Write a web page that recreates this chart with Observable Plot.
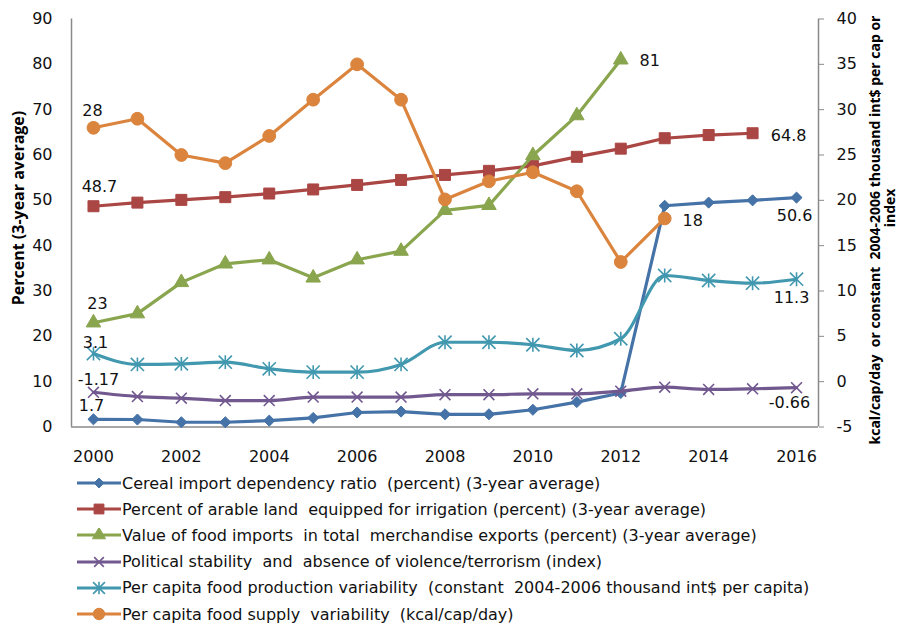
<!DOCTYPE html>
<html><head><meta charset="utf-8">
<script src="https://cdn.jsdelivr.net/npm/d3@7"></script>
<script src="https://cdn.jsdelivr.net/npm/@observablehq/plot@0.6"></script>
<style>
body{margin:0;background:#fff;font-family:"DejaVu Sans",sans-serif;}
#chart{position:relative;width:900px;height:628px;overflow:hidden;}
#chart svg.plot{position:absolute;left:0;top:0;}
.legend{position:absolute;left:76px;top:470px;}
.row{display:flex;align-items:center;height:26.2px;font-size:16px;color:#111;white-space:pre;}
.row svg{margin-right:0;flex:none}
</style></head><body><div id="chart"></div><script>
// ---------- data ----------
const years = [2000,2001,2002,2003,2004,2005,2006,2007,2008,2009,2010,2011,2012,2013,2014,2015,2016];
const xTicks = [2000,2002,2004,2006,2008,2010,2012,2014,2016];
const leftTicks = [0,10,20,30,40,50,60,70,80,90];
const rightTicks = [-5,0,5,10,15,20,25,30,35,40];

// left axis (percent)
const cereal     = [1.7,1.65,1.05,1.05,1.4,2.0,3.2,3.4,2.8,2.8,3.8,5.5,7.5,48.8,49.5,50.0,50.6];
const irrigation = [48.7,49.5,50.1,50.7,51.5,52.4,53.4,54.5,55.6,56.5,57.6,59.6,61.4,63.7,64.4,64.8];
const foodImports= [23,25,31.9,36,36.9,32.9,36.9,38.8,47.8,48.9,59.9,68.7,81];
// right axis
const stability  = [-1.17,-1.64,-1.82,-2.08,-2.08,-1.7,-1.7,-1.7,-1.44,-1.44,-1.34,-1.34,-1.05,-0.61,-0.86,-0.79,-0.66];
const prodVar    = [3.1,1.9,1.97,2.15,1.42,1.05,1.05,1.9,4.35,4.35,4.07,3.44,4.73,11.71,11.16,10.86,11.3];
const supplyVar  = [28,29,25,24.1,27.1,31.1,35,31.1,20.1,22.1,23.1,21,13.2,18];

const seriesNames = [
  "Cereal import dependency ratio  (percent) (3-year average)",
  "Percent of arable land  equipped for irrigation (percent) (3-year average)",
  "Value of food imports  in total  merchandise exports (percent) (3-year average)",
  "Political stability  and  absence of violence/terrorism (index)",
  "Per capita food production variability  (constant  2004-2006 thousand int$ per capita)",
  "Per capita food supply  variability  (kcal/cap/day)"
];
const labelSeries = [5,1,2,4,3,0,2,1,5,0,4,3];
const labelYears  = [2000,2000,2000,2000,2000,2000,2012,2015,2013,2016,2016,2016];
const labelTexts  = ["28","48.7","23","3.1","-1.17","1.7","81","64.8","18","50.6","11.3","-0.66"];
const leftTitle = "Percent (3-year average)";
const rightTitle1 = "kcal/cap/day  or constant  2004-2006 thousand int$ per cap or";
const rightTitle2 = "index";

// ---------- styles ----------
const colors = ["#4572A7","#AA4643","#89A54E","#71588F","#4198AF","#DB843D"];
const starSymbol = {draw(ctx, size){const r=Math.sqrt(size)*0.62;ctx.moveTo(-r,-r);ctx.lineTo(r,r);ctx.moveTo(r,-r);ctx.lineTo(-r,r);ctx.moveTo(0,-r*1.05);ctx.lineTo(0,r*1.05);}};
const symbols = ["diamond2","square","triangle","times",starSymbol,"circle"];
const filled  = [true,true,true,false,false,true];
const radii   = [5,6.2,5.4,5,6,6.4];
const labelOffsets = [[-1,-17],[6,-19],[4,-19],[2,-11],[5,-12],[-2,-13],[29,1],[36,3],[28,2],[-2,18],[-5,19],[-7,15]];
const FONT = "DejaVu Sans";
const TITLE_FONT = "Open Sans";

const toLeft = r => (r + 5) * 2;   // right axis -> left axis units
const raw = [cereal, irrigation, foodImports, stability, prodVar, supplyVar];
const onRight = [false,false,false,true,true,true];
const series = raw.map((vals, i) => vals.map((v, j) => ({year: years[j], value: onRight[i] ? toLeft(v) : v, s: i})));

const marks = [
  Plot.ruleY([0], {stroke:"#8a8a8a", strokeWidth:1.5}),
  Plot.ruleX([1999.5], {stroke:"#8a8a8a", strokeWidth:1.5}),
  Plot.ruleX([2016.5], {stroke:"#8a8a8a", strokeWidth:1.5}),
  Plot.axisX({ticks: xTicks, tickFormat: d => String(d), tickSize: 0, tickPadding: 24, label: null, fontSize: 16}),
  Plot.axisY({anchor:"left", ticks: leftTicks, tickSize: 0, tickPadding: 19, label: null, fontSize: 16}),
  Plot.axisY({anchor:"right", ticks: rightTicks.map(toLeft), tickFormat: d => String(d/2 - 5), tickSize: 5, stroke:"#8a8a8a", tickPadding: 13, label: null, fontSize: 16}),
];
series.forEach((data, i) => {
  marks.push(Plot.line(data, {x:"year", y:"value", stroke: colors[i], strokeWidth: 3.2, curve: i===4 || i===3 ? "monotone-x" : "linear"}));
  marks.push(Plot.dot(data, {x:"year", y:"value", symbol: () => symbols[i], r: radii[i],
    fill: filled[i] ? colors[i] : "none", stroke: colors[i], strokeWidth: filled[i] ? 1 : 1.6}));
});
labelTexts.forEach((t, k) => {
  const s = labelSeries[k];
  const d = series[s].find(p => p.year === labelYears[k]);
  marks.push(Plot.text([d], {x:"year", y:"value", text: () => t, dx: labelOffsets[k][0], dy: labelOffsets[k][1], fontSize: 16, fill:"#111"}));
});
// axis titles
marks.push(Plot.text([leftTitle], {frameAnchor:"left", textAnchor:"middle", text: d => d, rotate:-90, dx:-53, dy:-15, fontWeight:"bold", fontSize:16, fontFamily: TITLE_FONT, fill:"#000"}));
marks.push(Plot.text([rightTitle1], {frameAnchor:"right", textAnchor:"middle", text: d => d, rotate:-90, dx:57, dy:7, fontWeight:"bold", fontSize:14, fontFamily: TITLE_FONT, fill:"#000"}));
marks.push(Plot.text([rightTitle2], {frameAnchor:"right", textAnchor:"middle", text: d => d, rotate:-90, dx:72, dy:-15, fontWeight:"bold", fontSize:14, fontFamily: TITLE_FONT, fill:"#000"}));

const chart = Plot.plot({
  width: 900, height: 470,
  marginLeft: 71, marginRight: 82, marginTop: 18.5, marginBottom: 43.5,
  style: {fontFamily: FONT, fontSize: "16px", background: "white", color:"#111", overflow:"visible"},
  x: {domain: [1999.5, 2016.5], axis: null},
  y: {domain: [0, 90], axis: null},
  marks
});
chart.classList.add("plot");
const root = document.getElementById("chart");
root.appendChild(chart);

// legend
const legend = document.createElement("div");
legend.className = "legend";
seriesNames.forEach((name, i) => {
  const row = document.createElement("div");
  row.className = "row";
  const sw = d3.create("svg").attr("width", 46).attr("height", 14);
  sw.append("line").attr("x1",1).attr("x2",45).attr("y1",7).attr("y2",7).attr("stroke",colors[i]).attr("stroke-width",3);
  const symType = typeof symbols[i] === "string" ? ({diamond2:d3.symbolDiamond2,square:d3.symbolSquare,triangle:d3.symbolTriangle,times:d3.symbolTimes,circle:d3.symbolCircle})[symbols[i]] : symbols[i];
  sw.append("path").attr("transform","translate(23,7)")
    .attr("d", d3.symbol(symType, Math.PI*radii[i]*radii[i]*0.8)())
    .attr("fill", filled[i] ? colors[i] : "none").attr("stroke", colors[i]).attr("stroke-width", filled[i]?1:1.6);
  row.appendChild(sw.node());
  const span = document.createElement("span");
  span.textContent = name;
  row.appendChild(span);
  legend.appendChild(row);
});
root.appendChild(legend);
</script></body></html>
